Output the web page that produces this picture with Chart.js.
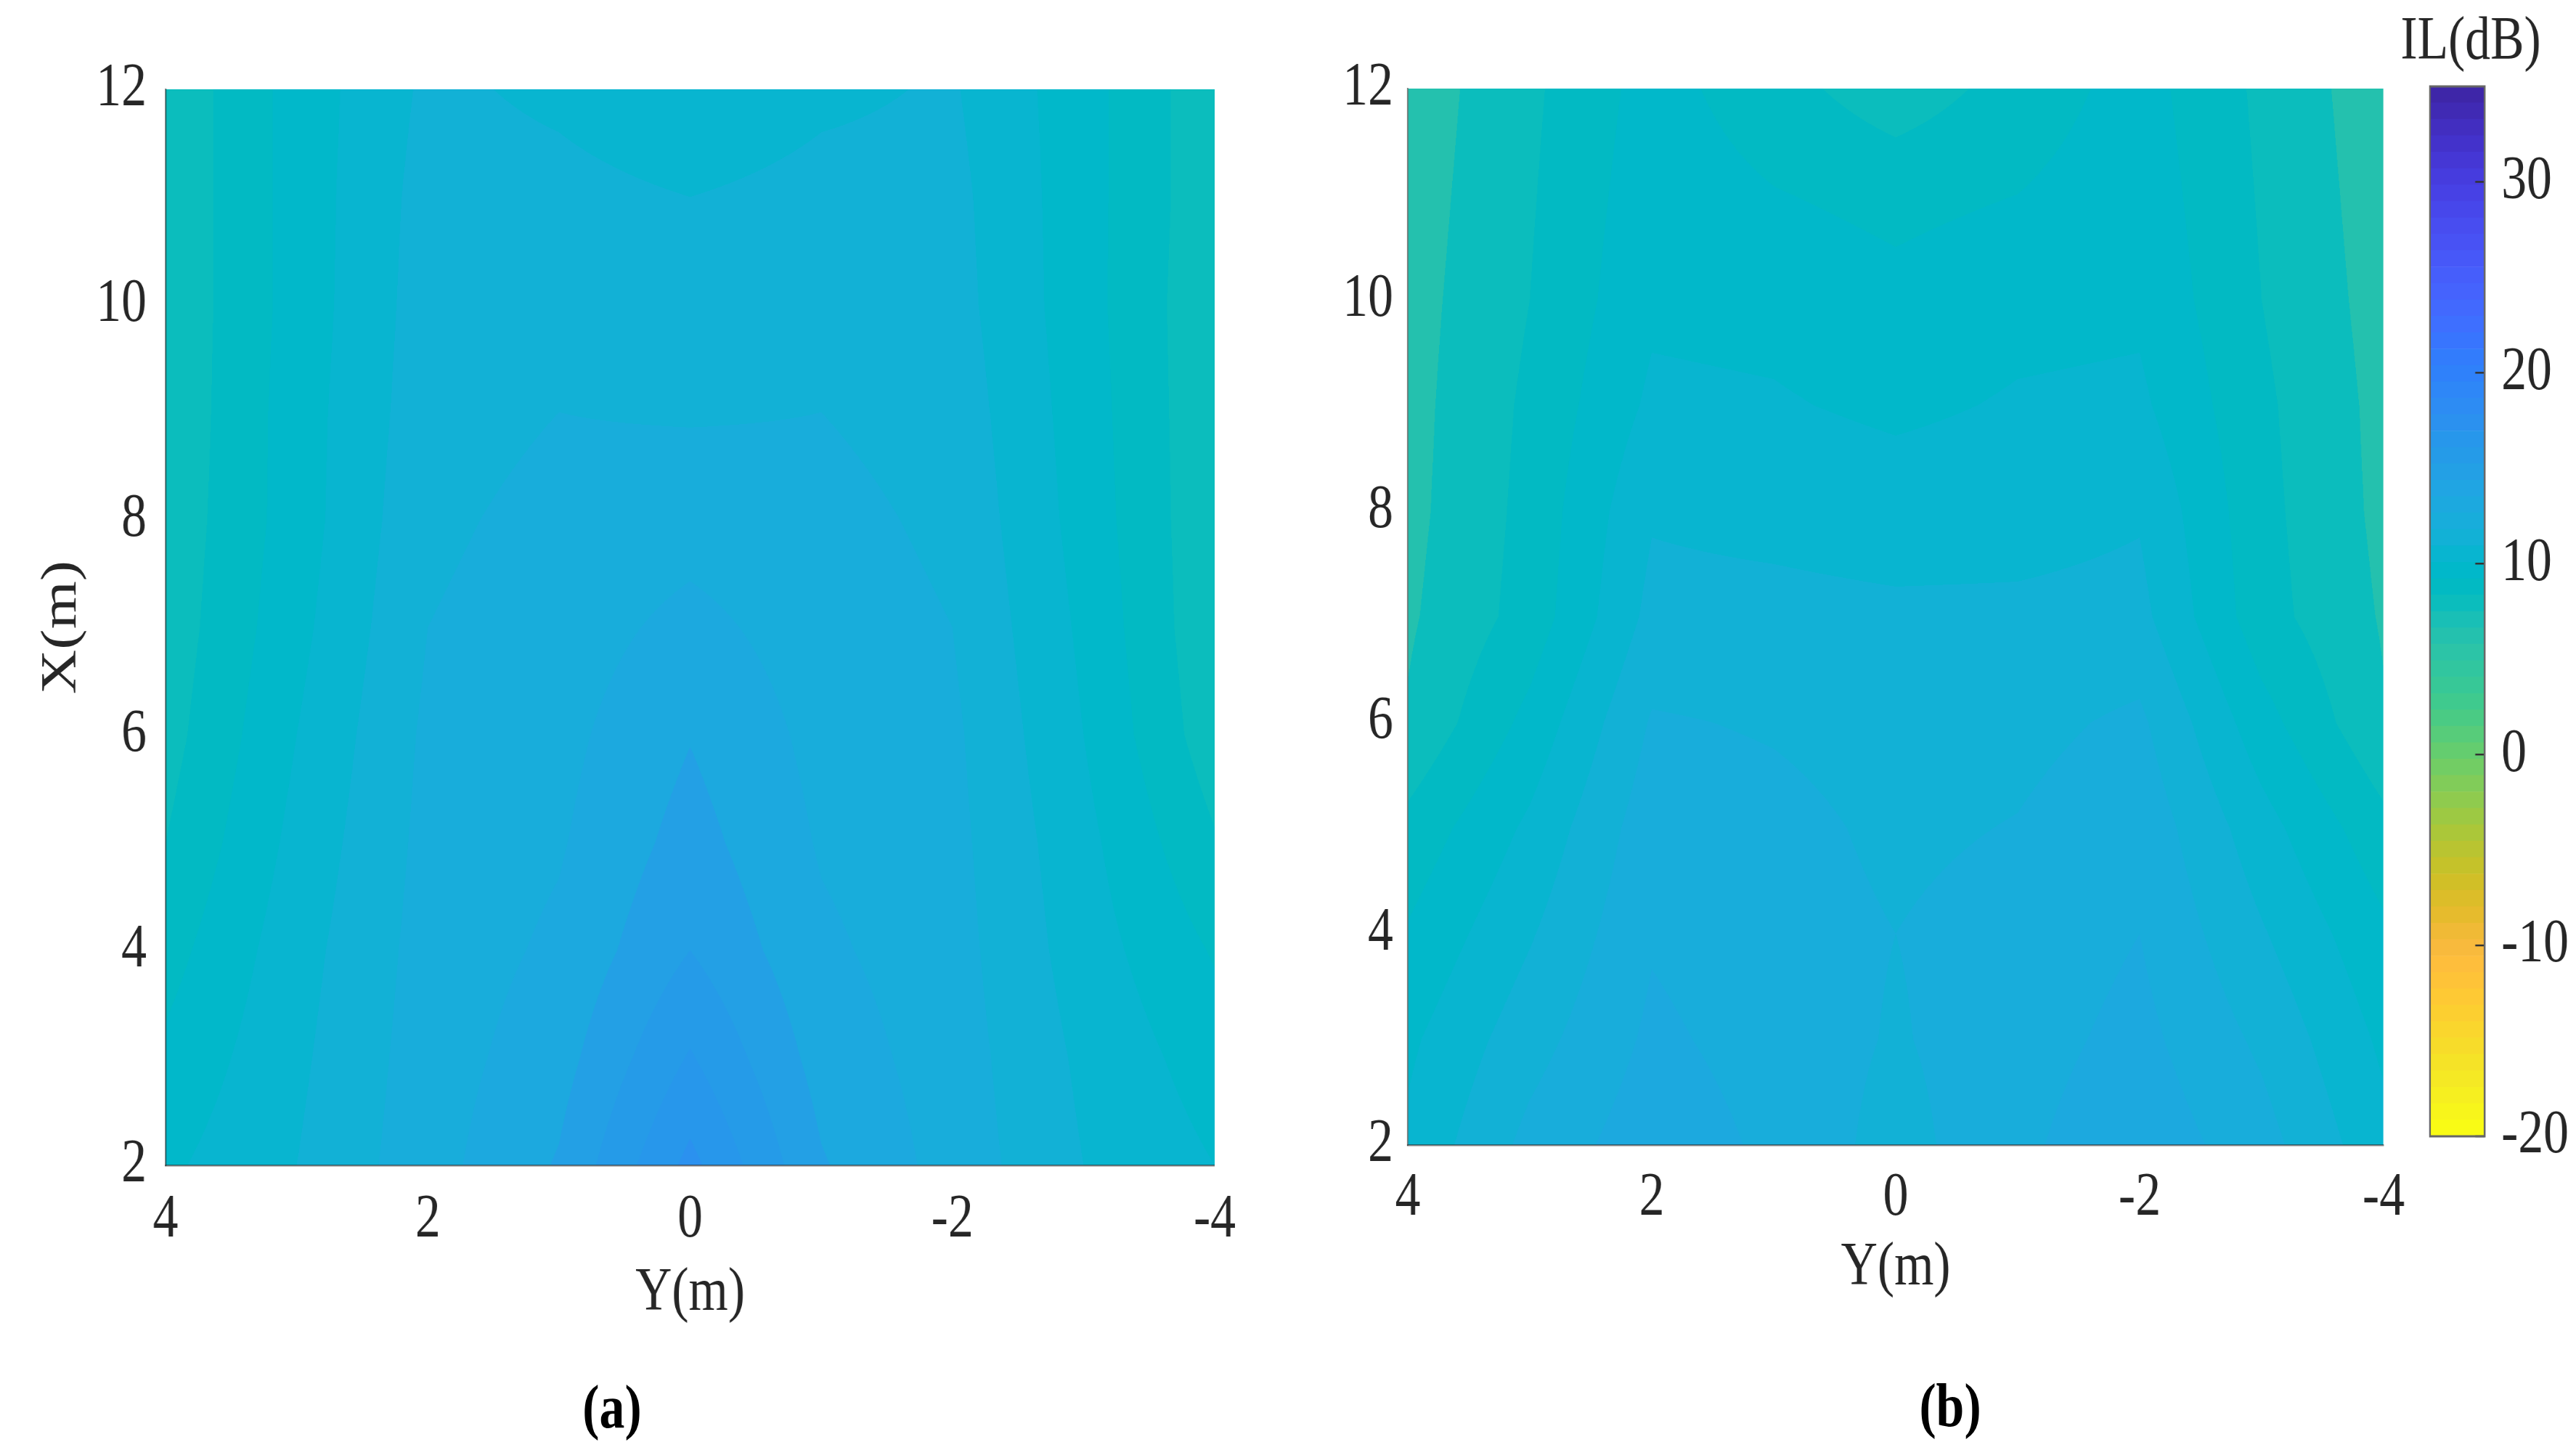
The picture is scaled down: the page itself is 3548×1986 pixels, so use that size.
<!DOCTYPE html>
<html>
<head>
<meta charset="utf-8">
<title>IL contour maps</title>
<script src="https://cdn.jsdelivr.net/npm/chart.js"></script>
<style>
  html, body { margin: 0; padding: 0; background: #fff; }
  body { position: relative; width: 3548px; height: 1986px; overflow: hidden; }
  canvas { position: absolute; top: 0; }
  .cap {
    position: absolute;
    font: bold 85px 'Liberation Serif', 'Times New Roman', serif;
    color: #000;
    line-height: 1;
    white-space: nowrap;
    transform: translate(-50%, -50%) scaleX(0.82);
  }
</style>
</head>
<body>
<canvas id="plotA"></canvas>
<canvas id="plotB"></canvas>
<canvas id="cbar"></canvas>
<div class="cap" style="left:843px;top:1937px">(a)</div>
<div class="cap" style="left:2686px;top:1935px">(b)</div>

<script>
// Grid of measurement points
const yPos = [4, 3, 2, 1, 0, -1, -2, -3, -4];        // Y (m), horizontal axis
const xPos = [12, 11, 10, 9, 8, 7, 6, 5, 4, 3, 2];   // X (m), vertical axis

// Insertion loss IL (dB), one row per X, one column per Y
const ilA = [
    [7.2, 9.4, 11.2, 10.8, 10.2, 10.8, 11.1, 9.4, 7.3],
    [7.2, 9.4, 11.4, 11.3, 11.0, 11.3, 11.3, 9.4, 7.3],
    [7.2, 9.4, 11.5, 11.7, 11.6, 11.7, 11.4, 9.4, 7.2],
    [7.2, 9.5, 11.6, 12.0, 11.9, 12.0, 11.6, 9.5, 7.2],
    [7.3, 9.5, 11.8, 12.3, 12.6, 12.3, 11.8, 9.6, 7.2],
    [7.4, 9.7, 12.0, 12.5, 13.3, 12.5, 12.0, 9.8, 7.2],
    [7.6, 10.0, 12.2, 12.7, 13.95, 12.7, 12.2, 10.0, 7.4],
    [8.0, 10.3, 12.3, 12.9, 14.4, 12.9, 12.3, 10.3, 8.1],
    [8.6, 10.6, 12.4, 13.2, 15.0, 13.2, 12.4, 10.5, 8.9],
    [9.2, 10.8, 12.5, 13.6, 16.1, 13.6, 12.5, 10.8, 9.5],
    [9.8, 11.0, 12.6, 14.1, 17.3, 14.1, 12.6, 11.0, 10.0]
];
const ilB = [
    [6.4, 7.8, 9.4, 8.4, 7.4, 8.4, 9.4, 7.8, 6.4],
    [6.5, 7.9, 9.6, 9.05, 8.7, 9.0, 9.6, 7.9, 6.5],
    [6.6, 8.0, 9.8, 9.7, 9.3, 9.7, 9.8, 8.0, 6.6],
    [6.65, 8.2, 10.2, 10.1, 9.8, 10.1, 10.2, 8.2, 6.7],
    [6.7, 8.3, 10.9, 10.7, 10.5, 10.6, 10.9, 8.3, 6.75],
    [6.85, 8.4, 11.3, 11.3, 11.2, 11.2, 11.3, 8.4, 6.9],
    [7.1, 9.3, 12.1, 11.9, 11.6, 11.7, 12.2, 9.4, 7.1],
    [8.3, 10.2, 12.6, 12.3, 11.8, 12.05, 12.7, 10.4, 8.3],
    [9.1, 10.9, 12.9, 12.4, 12.0, 12.4, 13.0, 11.1, 9.2],
    [9.8, 11.6, 13.2, 12.6, 11.9, 12.6, 13.3, 11.8, 9.8],
    [10.2, 12.3, 13.6, 12.8, 11.6, 12.8, 13.7, 12.4, 10.3]
];

// Axis ticks
const yTicks = [4, 2, 0, -2, -4];
const xTicks = [2, 4, 6, 8, 10, 12];
const cbTicks = [-20, -10, 0, 10, 20, 30];
const cLim = [-20, 35];
const levelStep = 1;   // contour spacing in dB

// parula(64), applied upside down (yellow = low IL)
const parula = [
    [0.2422,0.1504,0.6603],[0.2504,0.1650,0.7076],[0.2578,0.1818,0.7511],[0.2647,0.1978,0.7952],
    [0.2706,0.2147,0.8364],[0.2751,0.2342,0.8710],[0.2783,0.2559,0.8991],[0.2803,0.2782,0.9221],
    [0.2813,0.3006,0.9414],[0.2810,0.3228,0.9579],[0.2795,0.3447,0.9717],[0.2760,0.3667,0.9829],
    [0.2699,0.3892,0.9906],[0.2602,0.4123,0.9952],[0.2440,0.4358,0.9988],[0.2206,0.4603,0.9973],
    [0.1963,0.4847,0.9892],[0.1834,0.5074,0.9798],[0.1786,0.5289,0.9682],[0.1764,0.5499,0.9520],
    [0.1687,0.5703,0.9359],[0.1540,0.5902,0.9218],[0.1460,0.6091,0.9079],[0.1380,0.6276,0.8973],
    [0.1248,0.6459,0.8883],[0.1113,0.6635,0.8763],[0.0952,0.6798,0.8598],[0.0689,0.6948,0.8394],
    [0.0297,0.7082,0.8163],[0.0036,0.7203,0.7917],[0.0067,0.7312,0.7660],[0.0433,0.7411,0.7394],
    [0.0964,0.7500,0.7120],[0.1408,0.7584,0.6842],[0.1717,0.7670,0.6554],[0.1938,0.7758,0.6251],
    [0.2161,0.7843,0.5923],[0.2470,0.7918,0.5567],[0.2906,0.7973,0.5188],[0.3406,0.8008,0.4789],
    [0.3909,0.8029,0.4354],[0.4456,0.8024,0.3909],[0.5044,0.7993,0.3480],[0.5616,0.7942,0.3045],
    [0.6174,0.7876,0.2612],[0.6720,0.7793,0.2227],[0.7242,0.7698,0.1910],[0.7738,0.7598,0.1646],
    [0.8203,0.7498,0.1535],[0.8634,0.7406,0.1596],[0.9035,0.7330,0.1774],[0.9393,0.7288,0.2100],
    [0.9728,0.7298,0.2394],[0.9956,0.7434,0.2371],[0.9970,0.7659,0.2199],[0.9952,0.7893,0.2028],
    [0.9892,0.8136,0.1885],[0.9786,0.8386,0.1766],[0.9676,0.8639,0.1643],[0.9610,0.8890,0.1537],
    [0.9597,0.9135,0.1423],[0.9628,0.9373,0.1265],[0.9691,0.9606,0.1064],[0.9769,0.9839,0.0805]
];

// the figure is a bit narrower than tall, so canvases are squeezed horizontally
const SX = 0.82;
const px = v => v / SX;
const FONT = "'Liberation Serif', 'Times New Roman', serif";
const TXT = '#262626';

function rgbOf(v) {
    let k = Math.floor((v - cLim[0]) / (cLim[1] - cLim[0]) * parula.length);
    k = Math.max(0, Math.min(parula.length - 1, k));
    return parula[parula.length - 1 - k].map(c => Math.round(c * 255));
}

function locate(arr, v) {
    for (let k = 0; k < arr.length - 1; k++) {
        const a = arr[k], b = arr[k + 1];
        if ((v - a) * (v - b) <= 0) return [k, (v - a) / (b - a)];
    }
    return Math.abs(v - arr[0]) < Math.abs(v - arr[arr.length - 1]) ? [0, 0] : [arr.length - 2, 1];
}

// filled contour drawn through the chart scales
const contourFill = {
    id: 'contourFill',
    beforeDatasetsDraw(chart) {
        const ds = chart.data.datasets[0];
        const {ctx, chartArea, scales} = chart;
        const left = Math.round(chartArea.left), top = Math.round(chartArea.top);
        const w = Math.round(chartArea.right) - left, h = Math.round(chartArea.bottom) - top;
        const img = ctx.createImageData(w, h);
        const cols = [], rows = [];
        for (let i = 0; i < w; i++) cols.push(locate(ds.cols, scales.x.getValueForPixel(left + i + 0.5)));
        for (let j = 0; j < h; j++) rows.push(locate(ds.rows, scales.y.getValueForPixel(top + j + 0.5)));
        const cache = {};
        const g = ds.values;
        let p = 0;
        for (let j = 0; j < h; j++) {
            const [r, u] = rows[j];
            const g0 = g[r], g1 = g[r + 1];
            for (let i = 0; i < w; i++) {
                const [c, t] = cols[i];
                const v = (1 - u) * ((1 - t) * g0[c] + t * g0[c + 1]) + u * ((1 - t) * g1[c] + t * g1[c + 1]);
                const lvl = Math.floor(v / levelStep);
                const col = cache[lvl] || (cache[lvl] = rgbOf((lvl + 0.5) * levelStep));
                img.data[p++] = col[0];
                img.data[p++] = col[1];
                img.data[p++] = col[2];
                img.data[p++] = 255;
            }
        }
        ctx.putImageData(img, left, top);
    }
};

function setupCanvas(id, left, width) {
    const el = document.getElementById(id);
    el.width = Math.round(px(width));
    el.height = 1986;
    el.style.left = left + 'px';
    el.style.width = width + 'px';
    el.style.height = '1986px';
    return el;
}

function contourChart(id, g) {
    const el = setupCanvas(id, g.left, g.width);
    return new Chart(el, {
        type: 'scatter',
        data: {
            datasets: [{
                data: xPos.flatMap((xv, r) => yPos.map((yv, c) => ({x: yv, y: xv}))),
                rows: xPos,
                cols: yPos,
                values: g.values,
                pointRadius: 0
            }]
        },
        options: {
            responsive: false,
            animation: false,
            events: [],
            layout: { padding: { left: 0, top: g.top, right: px(g.width - g.right), bottom: 0 } },
            plugins: { legend: { display: false }, tooltip: { enabled: false } },
            scales: {
                x: {
                    type: 'linear', min: -4, max: 4, reverse: true,
                    afterBuildTicks: s => { s.ticks = yTicks.map(v => ({value: v})); },
                    afterFit: s => { s.height = 1986 - g.bottom; },
                    grid: { display: false, drawTicks: false },
                    border: { display: true, color: 'rgba(45,45,45,0.6)', width: 2.5, z: 1 },
                    ticks: { font: { family: FONT, size: 85, lineHeight: 1.2 }, color: TXT, padding: g.xtPad, maxRotation: 0, autoSkip: false },
                    title: { display: true, text: 'Y(m)', color: TXT, font: { family: FONT, size: 85, lineHeight: 1.2 },
                             padding: { top: 0, bottom: g.xTitle } }
                },
                y: {
                    type: 'linear', min: 2, max: 12,
                    afterBuildTicks: s => { s.ticks = xTicks.map(v => ({value: v})); },
                    afterFit: s => { s.width = px(g.left0); },
                    grid: { display: false, drawTicks: false },
                    border: { display: true, color: 'rgba(45,45,45,0.6)', width: 2.5, z: 1 },
                    ticks: { font: { family: FONT, size: 85, lineHeight: 1.2 }, color: TXT, padding: px(g.ytGap), autoSkip: false },
                    title: { display: g.yTitle !== null, text: 'X(m)', color: TXT, font: { family: FONT, size: 85, lineHeight: 1.2 },
                             padding: { top: g.yTitle || 0, bottom: 0 } }
                }
            }
        },
        plugins: [contourFill]
    });
}

// (a)
contourChart('plotA', {
    values: ilA, left: 0, width: 1760,
    left0: 228, right: 1673, top: 123, bottom: 1605,
    ytGap: 26, xtPad: 25, xTitle: 1986 - 1782 - 51,
    yTitle: px(86) - 51
});

// (b)
contourChart('plotB', {
    values: ilB, left: 1800, width: 1540,
    left0: 1939 - 1800, right: 3283 - 1800, top: 122, bottom: 1577,
    ytGap: 20, xtPad: 23, xTitle: 1986 - 1747 - 51,
    yTitle: null
});

// colour bar (canvas centred on the title)
const cbEl = setupCanvas('cbar', 3240, 326);
const nCol = parula.length;
const cbStep = (cLim[1] - cLim[0]) / nCol;

const cbFrame = {
    id: 'cbFrame',
    afterDatasetsDraw(chart) {
        const {ctx, chartArea: a, scales: {y}} = chart;
        ctx.save();
        ctx.strokeStyle = '#333';
        ctx.lineWidth = 2.5;
        y.ticks.forEach(t => {
            const py = y.getPixelForValue(t.value);
            ctx.beginPath();
            ctx.moveTo(a.right - px(13), py);
            ctx.lineTo(a.right, py);
            ctx.stroke();
        });
        ctx.strokeStyle = '#666';
        ctx.lineWidth = 3;
        ctx.strokeRect(a.left, a.top, a.right - a.left, a.bottom - a.top);
        ctx.restore();
    }
};

new Chart(cbEl, {
    type: 'bar',
    data: {
        labels: ['IL'],
        datasets: parula.map((c, k) => {
            const rgb = rgbOf(cLim[0] + (k + 0.5) * cbStep);
            return {
                data: [[cLim[0] + k * cbStep, cLim[0] + (k + 1) * cbStep]],
                backgroundColor: `rgb(${rgb[0]},${rgb[1]},${rgb[2]})`,
                borderWidth: 0,
                grouped: false,
                barPercentage: 1,
                categoryPercentage: 1,
                yAxisID: 'y'
            };
        })
    },
    options: {
        responsive: false,
        animation: false,
        events: [],
        layout: { padding: { left: 0, top: 0, right: 0, bottom: 1986 - 1565 } },
        plugins: {
            legend: { display: false },
            tooltip: { enabled: false },
            title: {
                display: true, text: 'IL(dB)', color: TXT,
                font: { family: FONT, size: 85, weight: 'normal', lineHeight: 1.2 },
                padding: { top: 8, bottom: 9 }
            }
        },
        scales: {
            x: { display: false },
            y: {
                position: 'right', min: cLim[0], max: cLim[1],
                afterBuildTicks: s => { s.ticks = cbTicks.map(v => ({value: v})); },
                afterFit: s => { s.width = px(3566 - 3422); },
                grid: { display: false, drawTicks: false },
                border: { display: false },
                ticks: { font: { family: FONT, size: 85, lineHeight: 1.2 }, color: TXT, padding: px(23), autoSkip: false }
            },
            yl: {
                type: 'linear', position: 'left', display: true, min: 0, max: 1,
                afterFit: s => { s.width = px(3347 - 3240); },
                grid: { display: false, drawTicks: false },
                border: { display: false },
                ticks: { display: false }
            }
        }
    },
    plugins: [cbFrame]
});
</script>
</body>
</html>
